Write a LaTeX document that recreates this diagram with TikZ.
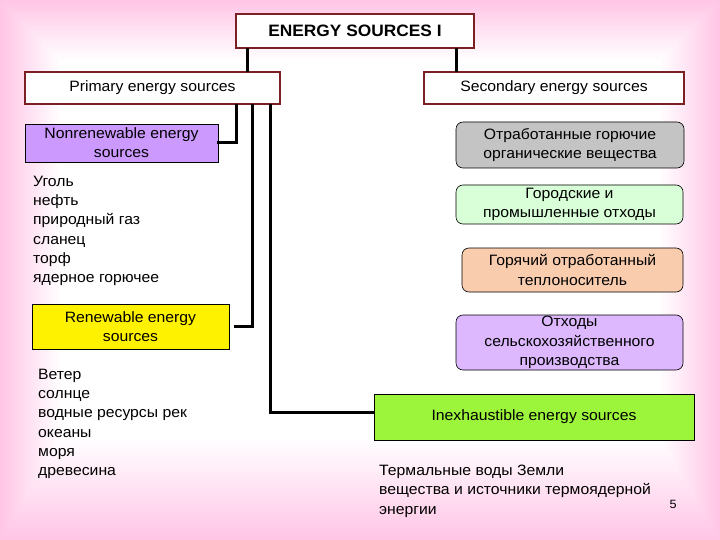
\documentclass[tikz,border=0pt]{standalone}
\usepackage{fontspec}
\setmainfont{Liberation Sans}[FakeStretch=1.05]
\usetikzlibrary{positioning}
\definecolor{pinkbg}{HTML}{FFC6E6}
\definecolor{maroon}{HTML}{7A1F23}
\definecolor{lilac}{HTML}{CC99FF}
\definecolor{lilaclight}{HTML}{DDB8FF}
\definecolor{greylight}{HTML}{C4C4C4}
\definecolor{mint}{HTML}{D8FFD8}
\definecolor{peach}{HTML}{FACCAE}
\definecolor{limegreen}{HTML}{9CF53A}

\begin{document}
\begin{tikzpicture}[x=1pt,y=-1pt,
  font=\fontsize{15}{19.2}\selectfont,
  head/.style={draw=maroon,line width=2.8pt,fill=white,inner sep=0pt},
  flat/.style={draw,line width=0.6pt,inner sep=0pt,align=center},
  soft/.style={flat,rounded corners=7pt},
  list/.style={anchor=north west,align=left,inner sep=0pt},
  conn/.style={line width=3pt,line cap=rect}]
% background
\fill[pinkbg] (0,0) rectangle (720,540);
\foreach \i in {1,...,25}
  \fill[pinkbg!\the\numexpr100-4*\i\relax!white] (2.4*\i,2.4*\i) rectangle (720-2.4*\i,540-4*\i);
\useasboundingbox (0,0) rectangle (720,540);

% top row
\node[head,minimum width=238,minimum height=34,font=\fontsize{16.5}{18}\selectfont\bfseries] (top) at (355,31) {ENERGY SOURCES I};
\node[head,minimum width=255,minimum height=32] (prim) at (152.5,88) {Primary energy sources};
\node[head,minimum width=260,minimum height=32] (sec) at (554,88) {Secondary energy sources};
\coordinate (topL) at (247,0); \coordinate (topR) at (456,0);
\draw[conn] (top.south -| topL) -- (prim.north -| topL);
\draw[conn] (top.south -| topR) -- (sec.north -| topR);

% primary side
\node[flat,fill=lilac,minimum width=193,minimum height=38] (nonren) at (121.5,143) {Nonrenewable energy\\sources};
\node[list] (fossil) at (33,176) {Уголь\\нефть\\природный газ\\сланец\\торф\\ядерное горючее};
\node[flat,fill=yellow,minimum width=197,minimum height=45] (renew) at (130.5,326.5) {Renewable energy\\sources};
\node[list] (green) at (38,369) {Ветер\\солнце\\водные ресурсы рек\\океаны\\моря\\древесина};
\coordinate (tapA) at (236,0); \coordinate (tapB) at (252,0); \coordinate (tapC) at (270,0);
\coordinate (renewEnd) at (235,0);
\draw[conn] (prim.south -| tapA) |- (nonren.east);
\draw[conn] (prim.south -| tapB) |- (renewEnd |- renew.east) coordinate (renewTip);
\draw[conn] (prim.south -| tapC) |- (374,412) coordinate (inexTip);

% secondary side
\node[soft,fill=greylight,minimum width=228,minimum height=46] (waste1) at (570,145) {Отработанные горючие\\органические вещества};
\node[soft,fill=mint,minimum width=227,minimum height=39] (waste2) at (569.5,204.5) {Городские и\\промышленные отходы};
\node[soft,fill=peach,minimum width=221,minimum height=44] (waste3) at (572.5,270) {Горячий отработанный\\теплоноситель};
\node[soft,fill=lilaclight,minimum width=227,minimum height=55] (waste4) at (569.5,342.5) {Отходы\\сельскохозяйственного\\производства};
\node[flat,fill=limegreen,minimum width=320,minimum height=46] (inex) at (534,417) {Inexhaustible energy sources};
\node[list] (thermal) at (379,465) {Термальные воды Земли\\вещества и источники термоядерной\\энергии};
\node[font=\fontsize{12}{14}\selectfont] (page) at (673,504) {5};
\end{tikzpicture}
\end{document}
